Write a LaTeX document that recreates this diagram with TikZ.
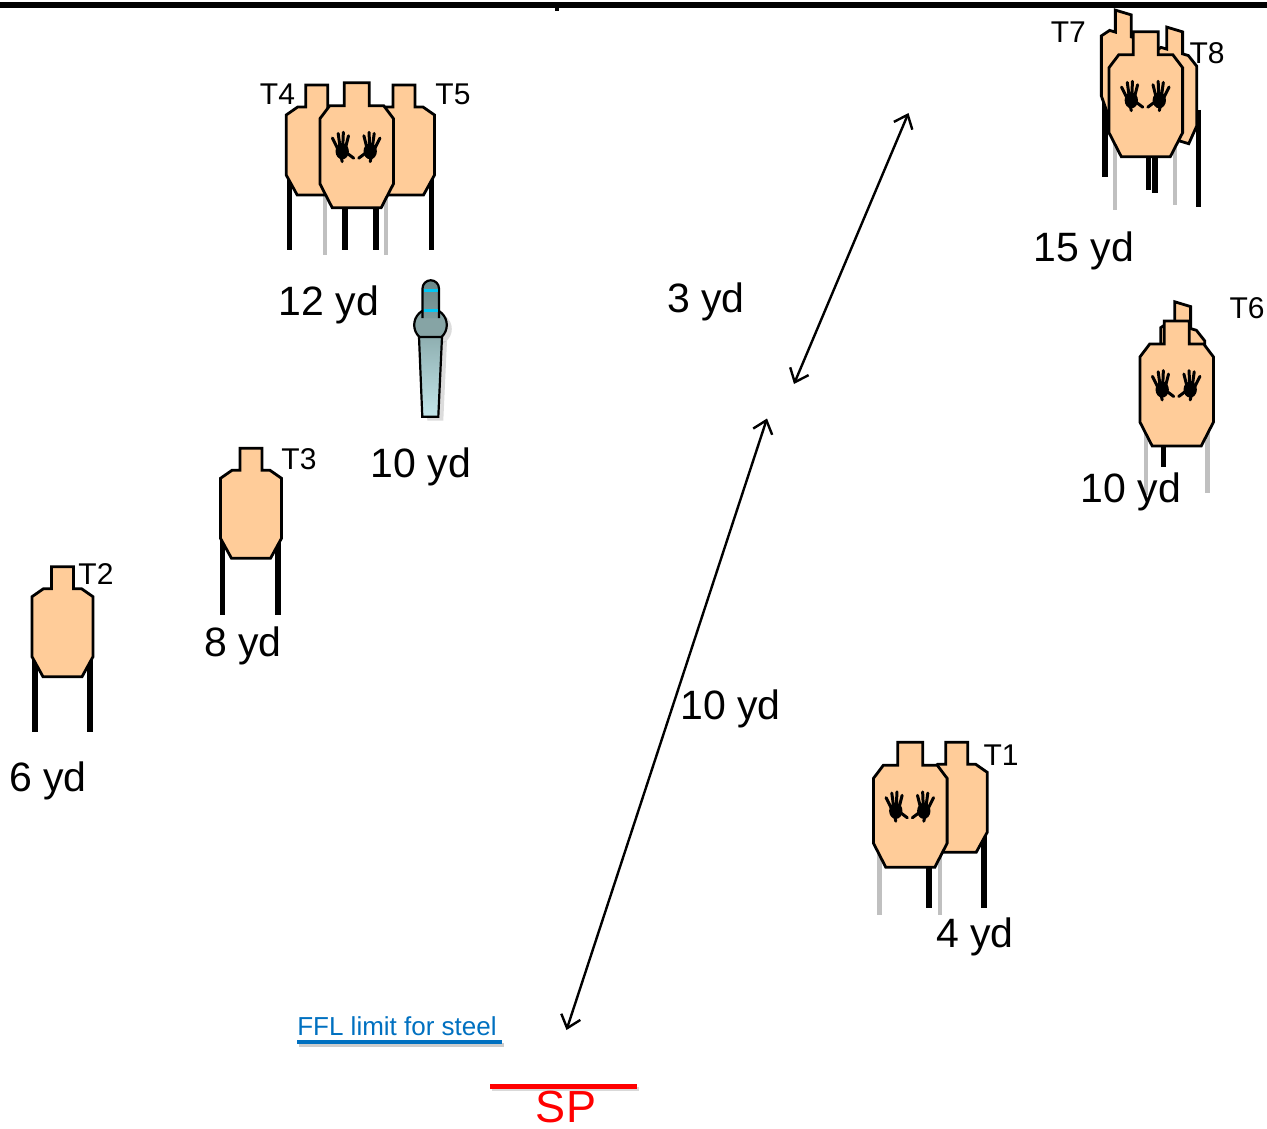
\documentclass[tikz,border=0pt]{standalone}
\usepackage{fontspec}
\setmainfont{Liberation Sans}
\usetikzlibrary{arrows.meta}

\definecolor{skinfill}{HTML}{FFCC99}
\definecolor{leggray}{HTML}{C0C0C0}
\definecolor{linkblue}{HTML}{0070C0}
\definecolor{popcyan}{HTML}{00C8F5}
\definecolor{pophead}{HTML}{6A8989}
\definecolor{popheadlow}{HTML}{7E9C9D}
\definecolor{popball}{HTML}{86A4A5}
\definecolor{popbodytop}{HTML}{8FAFB1}
\definecolor{popbodylow}{HTML}{C2E6EA}

% one black hand (left hand, thumb pointing to +x), palm centre at the origin
\newcommand\handshape{%
  \fill (0,0.5) ellipse [x radius=5.8, y radius=7];
  \draw[line width=3pt, line cap=round]
    (-4,-2) -- (-8.5,-11)
    (-2,-4) -- (-3.5,-15)
    (0.5,-4) -- (1,-16)
    (3,-3) -- (5.5,-13)
    (4,2) -- (10,6.5)
    (-1,5) -- (0,9.5);
}

\tikzset{
  tgtbody/.style={draw=black, line width=2.8pt, fill=skinfill, line join=miter},
  shootleg/.style={line width=5.5pt, black},
  noshootleg/.style={line width=4.5pt, leggray},
  dist/.style={font=\fontsize{41}{45}\selectfont, inner sep=0pt, anchor=base},
  tlabel/.style={font=\fontsize{30}{34}\selectfont, inner sep=0pt, anchor=base},
  arr/.style={line width=2.4pt, {Straight Barb[length=12pt,width=20pt]}-{Straight Barb[length=12pt,width=20pt]}},
  % target seen face-on
  pics/target/.style={code={
    \path[tgtbody] (-11,0) -- (11,0) -- (11,22) -- (19,22) -- (30.5,30) -- (30.5,90)
      -- (19.5,110) -- (-19.5,110) -- (-30.5,90) -- (-30.5,30) -- (-19,22) -- (-11,22) -- cycle;
  }},
  % the same target turned away, narrower and leaning
  pics/turned/.style={code={
    \path[tgtbody] (-7.92,-2.38) -- (7.92,2.38) -- (7.92,24.38) -- (13.68,26.10) -- (21.96,36.59)
      -- (21.96,96.59) -- (14.04,114.21) -- (-14.04,105.79) -- (-21.96,83.41) -- (-21.96,23.41)
      -- (-13.68,17.90) -- (-7.92,19.62) -- cycle;
  }},
  % no-shoot target with hands
  pics/nstarget/.style={code={
    \path[tgtbody] (-12.5,0) -- (12.5,0) -- (12.5,23) -- (27,23) -- (36.8,36) -- (36.8,101)
      -- (24.5,125) -- (-24.5,125) -- (-36.8,101) -- (-36.8,36) -- (-27,23) -- (-12.5,23) -- cycle;
    \begin{scope}[shift={(-14.5,68)}, scale=1.15] \handshape \end{scope}
    \begin{scope}[shift={(13.5,68)}, xscale=-1.15, yscale=1.15] \handshape \end{scope}
  }},
}

\begin{document}
\begin{tikzpicture}[x=1pt, y=-1pt]
\useasboundingbox (0,0) rectangle (1267,1129);

% top edge bar
\fill (0,2) rectangle (1267,8);
\fill (555,8) rectangle (559,11);

% ---------- legs (behind the targets) ----------
% shoot targets
\draw[shootleg] (35,640) -- (35,731.7) (90,640) -- (90,731.7);          % T2
\draw[shootleg] (222.7,520) -- (222.7,615) (278,520) -- (278,615);      % T3
\draw[shootleg] (289.3,160) -- (289.3,250) (345,160) -- (345,250);      % T4
\draw[shootleg] (376,160) -- (376,250) (431.7,160) -- (431.7,250);      % T5
\draw[shootleg] (929,820) -- (929,908) (984,820) -- (984,908);          % T1
\draw[shootleg] (1105,80) -- (1105,176.7) (1148.3,100) -- (1148.3,190); % T7
\draw[shootleg] (1155,110) -- (1155,193.3) (1198.3,110) -- (1198.3,206.7); % T8
\draw[shootleg] (1163.3,420) -- (1163.3,466.7);                          % T6
% no-shoot targets
\draw[noshootleg] (325,180) -- (325,255) (386,180) -- (386,255);
\draw[noshootleg] (879.3,820) -- (879.3,915) (940,820) -- (940,915);
\draw[noshootleg] (1115,130) -- (1115,210) (1175,130) -- (1175,205);
\draw[noshootleg] (1146,420) -- (1146,495) (1207.3,420) -- (1207.3,493);

% ---------- targets ----------
\pic at (62.5,566.7) {target};   % T2
\pic at (251,448.3) {target};    % T3
\pic at (316.7,85) {target};     % T4
\pic at (404,85) {target};       % T5
\pic at (356.7,82.7) {nstarget};

\pic at (956.7,742.3) {target};  % T1
\pic at (910.3,742.3) {nstarget};

\pic at (1123.3,12.5) {turned};  % T7
\pic at (1174.7,29.5) {turned};  % T8
\pic at (1145.8,31.7) {nstarget};

\pic at (1182.7,304.2) {turned}; % T6
\pic at (1176.7,321) {nstarget};

% ---------- popper ----------
\begin{scope}[shift={(5,4)}]
  \fill[black!30, opacity=0.45] (419,337) -- (442,337) -- (438.3,416.7) -- (422.3,416.7) -- cycle;
  \fill[black!30, opacity=0.45] (430.5,325) circle [radius=16.3];
\end{scope}
\draw[line width=2.2pt, fill=popball] (430.5,325) circle [radius=16.3];
\draw[line width=2.2pt, top color=pophead, bottom color=popheadlow]
  (422.5,318) -- (422.5,288.5) arc [start angle=180, end angle=360, radius=8.25] -- (439,318);
\draw[line width=3pt, popcyan] (424,290.3) -- (437.5,290.3) (424,310) -- (437.5,310);
\draw[line width=2.2pt, top color=popbodytop, bottom color=popbodylow]
  (419,337) -- (442,337) -- (438.3,416.7) -- (422.3,416.7) -- cycle;

% ---------- arrows ----------
\coordinate (u1) at (794,384);
\coordinate (u2) at (908.5,113);
\draw[arr] (u1) -- (u2);
\coordinate (l1) at (566.5,1030);
\coordinate (l2) at (767,418.5);
\draw[arr] (l1) -- (l2);

% ---------- target labels ----------
\node[tlabel] (t4) at (277.5,104.2) {T4};
\node[tlabel] (t5) at (453,104.2) {T5};
\node[tlabel] (t7) at (1068.3,42.4) {T7};
\node[tlabel] (t8) at (1207,64) {T8};
\node[tlabel] (t6) at (1247,318) {T6};
\node[tlabel] (t3) at (299,469) {T3};
\node[tlabel] (t2) at (96,584) {T2};
\node[tlabel] (t1) at (1001,765) {T1};

% ---------- distances ----------
\node[dist] (d12) at (329,315) {12 yd};
\node[dist] (d10p) at (421,477) {10 yd};
\node[dist] (d8) at (243,656) {8 yd};
\node[dist] (d6) at (48,791) {6 yd};
\node[dist] (d3) at (706,312) {3 yd};
\node[dist] (d15) at (1084,261) {15 yd};
\node[dist] (d10s) at (1131,502) {10 yd};
\node[dist] (d10a) at (730.5,719) {10 yd};
\node[dist] (d4) at (975,947) {4 yd};

% ---------- steel limit and start position ----------
\node[font=\fontsize{26}{30}\selectfont, text=linkblue, inner sep=0pt, anchor=base]
  (ffl) at (397,1035) {FFL limit for steel};
\draw[line width=4pt, black!20] (299,1045) -- (504,1045);
\draw[line width=4pt, linkblue] (297,1041.5) -- (502,1041.5);

\draw[line width=4pt, black!15] (492,1089) -- (639,1089);
\draw[line width=5pt, red] (490,1086) -- (637,1086);
\node[font=\fontsize{45}{50}\selectfont, text=red, inner sep=0pt, anchor=base]
  (sp) at (566,1122) {SP};
\end{tikzpicture}
\end{document}
